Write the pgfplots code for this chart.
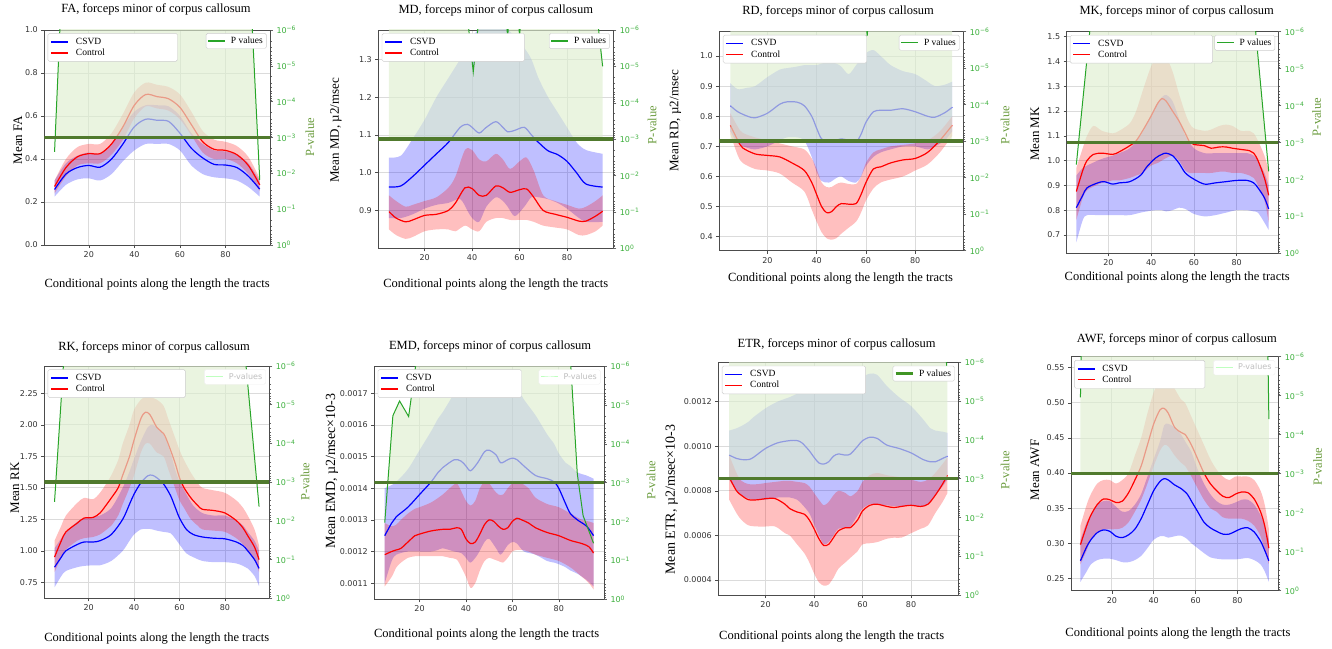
\documentclass[border=0pt]{standalone}
\usepackage{fontspec}
\setmainfont{Liberation Serif}
\newfontfamily\tickfamily{DejaVu Sans}
\usepackage{pgfplots}
\usepackage{pgfplotstable}
\pgfplotsset{compat=1.18}
\usepgfplotslibrary{fillbetween}

\definecolor{cblue}{RGB}{0,0,255}
\definecolor{cred}{RGB}{255,0,0}
\definecolor{gfill}{RGB}{222,238,208}
\definecolor{pgreen}{RGB}{40,165,40}
\definecolor{thr}{RGB}{80,122,45}
\definecolor{tgreen}{RGB}{60,175,60}
\definecolor{plab}{RGB}{105,155,60}

\newcommand{\tickf}{\tickfamily\fontsize{8}{9.5}\selectfont}
\newcommand{\ttlf}{\fontsize{12.5}{14}\selectfont}
\newcommand{\labf}{\fontsize{12.5}{14}\selectfont}
\newcommand{\ylabf}{\fontsize{13}{15}\selectfont}
\newcommand{\legf}{\fontsize{9.5}{11}\selectfont}

\tikzset{lbl/.style 2 args={at={(axis description cs:#1,#2)},anchor=center}}

% right axis: y = -log10(p), so 0 is p=1 (bottom) and 6 is p=1e-6 (top)
\pgfplotsset{
  lax/.style={scale only axis, xmin=0.5, xmax=99.5, xtick={20,40,60,80},
    grid=major, major grid style={line width=0.7pt, black!14},
    tick pos=left, tick align=outside, major tick length=3pt,
    tick style={black!70, line width=0.5pt},
    axis line style={black!70, line width=0.7pt},
    ticklabel style={font=\tickf, text=black!80},
    /pgf/number format/assume math mode=true,
    title style={font=\ttlf}, xlabel style={font=\labf}, ylabel style={font=\ylabf}},
  pax/.style={scale only axis, xmin=0.5, xmax=99.5, ymin=0, ymax=6,
    axis x line=none, axis y line*=right,
    ytick={0,1,2,3,4,5,6},
    yticklabels={10\textsuperscript{0},10\textsuperscript{−1},10\textsuperscript{−2},10\textsuperscript{−3},10\textsuperscript{−4},10\textsuperscript{−5},10\textsuperscript{−6}},
    minor ytick={0.046,0.097,0.155,0.222,0.301,0.398,0.523,0.699,1.046,1.097,1.155,1.222,1.301,1.398,1.523,1.699,2.046,2.097,2.155,2.222,2.301,2.398,2.523,2.699,3.046,3.097,3.155,3.222,3.301,3.398,3.523,3.699,4.046,4.097,4.155,4.222,4.301,4.398,4.523,4.699,5.046,5.097,5.155,5.222,5.301,5.398,5.523,5.699},
    tick align=outside, major tick length=3pt, minor tick length=1.8pt,
    tick style={black!60, line width=0.5pt},
    axis line style={black!70, line width=0.7pt},
    yticklabel style={font=\tickf, text=tgreen},
    ylabel style={font=\labf, text=plab},
    legend style={at={(axis description cs:0.985,0.985)}, anchor=north east, draw=black!20,
      fill=white, rounded corners=1.5pt, font=\legf, inner sep=1.5pt, column sep=3pt,
      legend cell align=left}},
  lg/.style={scale only axis, hide axis, xmin=0, xmax=1, ymin=0, ymax=1,
    legend style={at={(axis description cs:0.015,0.985)}, anchor=north west, draw=black!20,
      fill=white, rounded corners=1.5pt, font=\legf, legend cell align=left,
      inner sep=2.5pt, row sep=-1pt, column sep=5pt}},
  pfill/.style={fill=gfill, fill opacity=0.65, draw=none, forget plot},
  pcur/.style={pgreen, line width=1pt, forget plot},
  thrl/.style={thr, line width=3.6pt, forget plot},
  faded/.style={legend style={text=black!25, draw=black!6, font=\tickf}}
}

\newcommand{\bands}[2]{%
  \addplot[name path=bl, draw=none, smooth, forget plot] table[x=x,y=l]{#1};
  \addplot[name path=bh, draw=none, smooth, forget plot] table[x=x,y=h]{#1};
  \addplot[fill=cblue, fill opacity=0.25, draw=none, forget plot] fill between[of=bl and bh];
  \addplot[name path=rl, draw=none, smooth, forget plot] table[x=x,y=l]{#2};
  \addplot[name path=rh, draw=none, smooth, forget plot] table[x=x,y=h]{#2};
  \addplot[fill=cred, fill opacity=0.25, draw=none, forget plot] fill between[of=rl and rh];
  \addplot[cblue, line width=1.2pt, smooth, forget plot] table[x=x,y=m]{#1};
  \addplot[cred, line width=1.2pt, smooth, forget plot] table[x=x,y=m]{#2};
}
% legend-only overlay axis: an invisible two-point plot gives it a bounding box
\newcommand{\legbox}[4]{%
  \begin{axis}[lg, at={#1}, width=#2, height=#3]
  \addplot[draw=none, forget plot] coordinates {(0,0) (1,1)};
  \addlegendimage{cblue, line width=1.5pt}\addlegendentry{\makebox[#4][l]{CSVD}}
  \addlegendimage{cred, line width=1.5pt}\addlegendentry{\makebox[#4][l]{Control}}
  \end{axis}}

% ---------------- data: x, mean, lower, upper ----------------
\pgfplotstableread{
x m l h
5 0.258 0.225 0.30
10 0.33 0.28 0.38
15 0.36 0.305 0.415
20 0.37 0.31 0.43
25 0.362 0.30 0.425
30 0.40 0.33 0.47
35 0.47 0.39 0.55
40 0.55 0.44 0.62
45 0.585 0.47 0.65
50 0.58 0.47 0.65
55 0.575 0.47 0.645
60 0.52 0.44 0.60
65 0.45 0.37 0.52
70 0.405 0.33 0.47
75 0.375 0.315 0.44
80 0.372 0.31 0.435
85 0.36 0.30 0.42
90 0.32 0.27 0.38
95 0.26 0.225 0.30
}\FAb
\pgfplotstableread{
x m l h
5 0.272 0.24 0.30
10 0.36 0.32 0.40
15 0.41 0.37 0.455
20 0.425 0.38 0.47
25 0.425 0.38 0.47
30 0.47 0.42 0.52
35 0.55 0.49 0.61
40 0.65 0.59 0.71
45 0.70 0.645 0.755
50 0.69 0.635 0.745
55 0.68 0.625 0.735
60 0.64 0.585 0.70
65 0.56 0.51 0.62
70 0.48 0.43 0.53
75 0.445 0.40 0.49
80 0.44 0.40 0.48
85 0.42 0.38 0.46
90 0.37 0.33 0.41
95 0.28 0.25 0.31
}\FAr
\pgfplotstableread{
x m l h
5 0.962 0.88 1.04
10 0.965 0.88 1.045
15 0.99 0.89 1.09
20 1.02 0.905 1.14
25 1.05 0.915 1.20
30 1.08 0.92 1.25
35 1.12 0.93 1.30
38 1.128 0.90 1.33
40 1.12 0.88 1.36
43 1.105 0.87 1.38
46 1.12 0.91 1.40
50 1.135 0.935 1.42
53 1.12 0.925 1.40
55 1.108 0.91 1.38
58 1.112 0.885 1.36
62 1.12 0.91 1.33
65 1.10 0.935 1.30
68 1.08 0.935 1.25
72 1.058 0.93 1.20
76 1.048 0.92 1.16
80 1.03 0.905 1.12
84 1.00 0.885 1.08
88 0.97 0.87 1.06
95 0.962 0.87 1.05
}\MDb
\pgfplotstableread{
x m l h
5 0.897 0.85 0.94
8 0.88 0.835 0.925
12 0.87 0.825 0.91
15 0.875 0.83 0.915
20 0.887 0.845 0.925
25 0.89 0.85 0.935
30 0.90 0.85 0.96
33 0.92 0.845 0.99
37 0.96 0.86 1.06
40 0.958 0.85 1.06
43 0.94 0.845 1.035
46 0.94 0.87 1.03
50 0.965 0.88 1.05
53 0.96 0.88 1.035
56 0.948 0.875 1.01
60 0.955 0.875 1.03
63 0.957 0.875 1.04
66 0.935 0.87 1.005
70 0.90 0.86 0.94
75 0.89 0.855 0.925
80 0.882 0.85 0.915
85 0.872 0.835 0.905
88 0.872 0.835 0.91
92 0.885 0.845 0.925
95 0.898 0.86 0.94
}\MDr
\pgfplotstableread{
x m l h
5 0.835 0.75 0.91
8 0.815 0.71 0.89
12 0.80 0.695 0.895
15 0.795 0.69 0.90
20 0.81 0.70 0.93
25 0.84 0.72 0.955
28 0.848 0.73 0.96
32 0.847 0.73 0.965
35 0.835 0.72 0.97
38 0.80 0.665 0.97
40 0.76 0.615 0.97
42 0.725 0.585 0.975
45 0.715 0.58 0.98
48 0.72 0.595 0.975
50 0.725 0.60 0.965
53 0.72 0.585 0.94
56 0.715 0.58 0.97
58 0.74 0.60 0.99
60 0.78 0.635 1.01
63 0.815 0.665 1.02
66 0.82 0.68 1.00
70 0.82 0.69 0.97
75 0.825 0.70 0.95
80 0.815 0.70 0.94
85 0.80 0.69 0.915
88 0.797 0.70 0.90
92 0.812 0.72 0.905
95 0.83 0.75 0.915
}\RDb
\pgfplotstableread{
x m l h
5 0.77 0.74 0.81
8 0.72 0.67 0.765
10 0.695 0.645 0.745
15 0.675 0.625 0.73
20 0.67 0.62 0.72
25 0.665 0.61 0.71
30 0.645 0.58 0.70
35 0.62 0.55 0.69
38 0.58 0.49 0.66
40 0.54 0.45 0.625
42 0.50 0.415 0.58
44 0.48 0.395 0.565
46 0.483 0.39 0.565
48 0.50 0.395 0.575
50 0.51 0.41 0.58
53 0.508 0.43 0.575
56 0.51 0.45 0.575
58 0.54 0.48 0.60
60 0.58 0.52 0.645
63 0.625 0.56 0.68
66 0.632 0.58 0.69
70 0.645 0.59 0.70
75 0.655 0.60 0.705
80 0.66 0.62 0.71
85 0.68 0.64 0.72
90 0.72 0.68 0.75
95 0.77 0.735 0.80
}\RDr
\pgfplotstableread{
x m l h
5 0.81 0.67 0.94
8 0.86 0.76 0.97
10 0.89 0.78 0.98
15 0.91 0.78 1.00
18 0.915 0.78 1.01
22 0.905 0.78 1.02
25 0.91 0.78 1.03
30 0.915 0.78 1.05
35 0.94 0.79 1.10
38 0.975 0.795 1.15
42 1.01 0.80 1.22
45 1.025 0.80 1.255
47 1.03 0.795 1.265
50 1.02 0.80 1.24
53 0.99 0.81 1.17
56 0.95 0.805 1.10
60 0.925 0.785 1.05
65 0.905 0.775 1.03
70 0.91 0.78 1.03
75 0.915 0.79 1.03
80 0.92 0.80 1.03
85 0.92 0.80 1.03
88 0.91 0.795 1.02
90 0.89 0.79 1.00
93 0.85 0.75 0.95
95 0.805 0.72 0.90
}\MKb
\pgfplotstableread{
x m l h
5 0.875 0.76 0.97
8 0.96 0.85 1.05
10 1.00 0.88 1.10
13 1.025 0.895 1.14
17 1.03 0.91 1.12
22 1.025 0.92 1.11
25 1.035 0.92 1.12
30 1.06 0.93 1.15
33 1.08 0.94 1.20
36 1.12 0.95 1.28
40 1.18 0.98 1.38
43 1.23 0.99 1.42
45 1.25 1.00 1.43
47 1.24 1.01 1.42
50 1.20 1.02 1.36
53 1.16 1.00 1.27
56 1.11 0.96 1.19
58 1.075 0.95 1.15
60 1.065 0.95 1.13
65 1.06 0.95 1.12
68 1.05 0.95 1.125
72 1.055 0.955 1.14
75 1.055 0.955 1.145
78 1.05 0.95 1.14
82 1.045 0.95 1.12
86 1.04 0.94 1.12
88 1.03 0.93 1.11
90 1.00 0.90 1.08
93 0.93 0.84 1.02
95 0.86 0.75 0.96
}\MKr
\pgfplotstableread{
x m l h
5 0.87 0.71 1.02
8 0.95 0.80 1.10
10 1.00 0.84 1.15
15 1.05 0.87 1.23
18 1.07 0.88 1.26
22 1.07 0.885 1.27
25 1.08 0.885 1.28
30 1.13 0.92 1.34
35 1.25 1.00 1.50
38 1.37 1.08 1.63
40 1.45 1.13 1.73
43 1.54 1.17 1.87
46 1.595 1.175 1.98
48 1.60 1.17 2.00
50 1.58 1.16 1.98
53 1.53 1.15 1.92
56 1.44 1.14 1.78
58 1.35 1.10 1.65
60 1.26 1.05 1.55
63 1.17 0.98 1.45
66 1.13 0.95 1.36
70 1.11 0.92 1.30
75 1.10 0.91 1.28
80 1.095 0.91 1.28
85 1.07 0.90 1.24
88 1.04 0.88 1.20
90 1.00 0.86 1.15
93 0.93 0.80 1.08
95 0.86 0.72 1.00
}\RKb
\pgfplotstableread{
x m l h
5 0.95 0.83 1.08
8 1.08 0.95 1.20
10 1.15 1.01 1.28
15 1.22 1.08 1.38
18 1.26 1.10 1.42
22 1.265 1.11 1.41
25 1.30 1.13 1.46
28 1.37 1.17 1.54
30 1.42 1.20 1.60
33 1.50 1.28 1.72
35 1.60 1.37 1.85
38 1.75 1.50 2.00
40 1.88 1.60 2.12
43 2.05 1.78 2.20
45 2.10 1.85 2.22
47 2.08 1.85 2.22
50 1.98 1.78 2.20
53 1.93 1.75 2.15
55 1.85 1.65 2.05
58 1.70 1.50 1.90
60 1.58 1.40 1.80
62 1.50 1.34 1.72
65 1.42 1.25 1.62
68 1.36 1.20 1.54
70 1.33 1.17 1.50
75 1.32 1.16 1.48
80 1.30 1.15 1.46
85 1.24 1.10 1.40
88 1.18 1.05 1.34
90 1.12 1.00 1.28
93 1.03 0.93 1.17
95 0.93 0.83 1.04
}\RKr
\pgfplotstableread{
x m l h
5 1.25 1.10 1.40
8 1.29 1.17 1.41
10 1.31 1.19 1.42
15 1.34 1.20 1.46
20 1.38 1.20 1.52
25 1.42 1.20 1.58
28 1.45 1.205 1.62
30 1.465 1.21 1.64
35 1.49 1.20 1.70
38 1.485 1.195 1.73
40 1.47 1.18 1.74
42 1.455 1.165 1.75
45 1.48 1.19 1.76
48 1.515 1.23 1.77
50 1.52 1.24 1.77
53 1.505 1.21 1.77
55 1.48 1.19 1.76
58 1.49 1.22 1.75
60 1.495 1.23 1.73
62 1.49 1.225 1.72
65 1.47 1.20 1.68
70 1.44 1.19 1.63
75 1.43 1.17 1.57
78 1.42 1.165 1.54
80 1.40 1.16 1.51
83 1.35 1.15 1.48
85 1.32 1.14 1.47
88 1.30 1.13 1.45
92 1.28 1.11 1.44
95 1.25 1.09 1.43
}\EMDb
\pgfplotstableread{
x m l h
5 1.19 1.09 1.29
8 1.20 1.12 1.28
10 1.205 1.15 1.285
12 1.21 1.165 1.30
15 1.23 1.18 1.32
18 1.25 1.185 1.335
20 1.255 1.185 1.34
25 1.265 1.185 1.355
30 1.27 1.185 1.38
33 1.27 1.18 1.40
36 1.275 1.175 1.415
38 1.27 1.15 1.39
40 1.24 1.12 1.36
42 1.225 1.085 1.345
44 1.23 1.10 1.36
46 1.255 1.14 1.40
48 1.285 1.17 1.42
50 1.30 1.18 1.415
52 1.295 1.175 1.395
54 1.28 1.17 1.38
56 1.27 1.165 1.38
58 1.275 1.18 1.40
60 1.295 1.20 1.415
62 1.305 1.205 1.42
64 1.30 1.205 1.415
67 1.29 1.20 1.40
70 1.275 1.19 1.37
75 1.26 1.18 1.35
80 1.25 1.17 1.34
85 1.235 1.15 1.32
90 1.225 1.12 1.30
93 1.215 1.10 1.295
95 1.195 1.08 1.29
}\EMDr
\pgfplotstableread{
x m l h
5 0.96 0.85 1.07
8 0.945 0.80 1.08
10 0.94 0.78 1.09
13 0.94 0.765 1.11
15 0.95 0.76 1.13
20 0.99 0.76 1.17
25 1.015 0.77 1.20
30 1.025 0.77 1.22
33 1.025 0.76 1.235
35 1.015 0.74 1.24
38 0.98 0.70 1.245
40 0.95 0.65 1.245
42 0.925 0.60 1.24
44 0.92 0.56 1.24
46 0.93 0.57 1.245
48 0.955 0.60 1.25
50 0.965 0.63 1.26
53 0.96 0.635 1.265
55 0.965 0.64 1.27
58 1.00 0.69 1.29
60 1.025 0.72 1.31
63 1.04 0.74 1.325
66 1.035 0.74 1.32
70 1.005 0.735 1.27
75 0.99 0.73 1.22
80 0.97 0.735 1.18
85 0.94 0.73 1.12
88 0.93 0.75 1.08
90 0.93 0.78 1.07
93 0.945 0.82 1.065
95 0.955 0.85 1.06
}\ETRb
\pgfplotstableread{
x m l h
5 0.86 0.76 0.96
8 0.80 0.70 0.88
10 0.78 0.67 0.845
13 0.76 0.645 0.83
17 0.76 0.64 0.83
20 0.765 0.64 0.835
24 0.765 0.64 0.84
28 0.74 0.61 0.845
30 0.72 0.60 0.845
33 0.705 0.56 0.84
36 0.695 0.52 0.835
38 0.67 0.48 0.82
40 0.63 0.43 0.79
42 0.585 0.39 0.76
44 0.555 0.375 0.735
46 0.56 0.38 0.75
48 0.59 0.41 0.78
50 0.62 0.45 0.80
53 0.635 0.48 0.79
55 0.635 0.50 0.775
58 0.67 0.53 0.80
60 0.71 0.56 0.84
63 0.735 0.565 0.87
66 0.74 0.57 0.88
70 0.73 0.585 0.87
73 0.725 0.59 0.865
76 0.73 0.59 0.86
80 0.735 0.61 0.85
84 0.73 0.63 0.84
87 0.74 0.645 0.85
90 0.78 0.70 0.88
93 0.83 0.75 0.92
95 0.87 0.79 0.95
}\ETRr
\pgfplotstableread{
x m l h
5 0.275 0.245 0.305
8 0.295 0.26 0.33
10 0.305 0.27 0.34
13 0.315 0.276 0.355
16 0.319 0.278 0.36
19 0.317 0.278 0.36
22 0.31 0.276 0.352
25 0.308 0.273 0.345
28 0.312 0.273 0.346
31 0.32 0.276 0.355
34 0.335 0.282 0.37
37 0.355 0.293 0.395
40 0.375 0.305 0.42
43 0.388 0.31 0.445
45 0.392 0.31 0.468
47 0.39 0.308 0.47
50 0.383 0.31 0.465
53 0.378 0.311 0.455
56 0.37 0.306 0.44
58 0.36 0.30 0.43
61 0.345 0.293 0.405
64 0.33 0.286 0.385
67 0.322 0.28 0.37
70 0.317 0.278 0.36
73 0.313 0.277 0.355
76 0.313 0.277 0.355
79 0.317 0.277 0.358
82 0.321 0.278 0.362
85 0.322 0.279 0.362
88 0.316 0.276 0.355
91 0.303 0.27 0.34
93 0.29 0.26 0.325
95 0.275 0.245 0.305
}\AWFb
\pgfplotstableread{
x m l h
5 0.298 0.27 0.325
8 0.325 0.29 0.355
10 0.34 0.305 0.37
13 0.355 0.315 0.385
16 0.363 0.32 0.39
19 0.362 0.32 0.39
22 0.358 0.32 0.385
25 0.36 0.322 0.39
28 0.372 0.33 0.40
31 0.39 0.345 0.425
34 0.41 0.362 0.45
37 0.44 0.385 0.485
40 0.47 0.41 0.515
43 0.49 0.432 0.535
45 0.492 0.44 0.54
47 0.485 0.438 0.535
50 0.465 0.425 0.52
53 0.458 0.415 0.505
55 0.455 0.41 0.50
58 0.44 0.395 0.48
61 0.42 0.378 0.46
64 0.40 0.362 0.44
67 0.385 0.35 0.42
70 0.375 0.345 0.405
73 0.367 0.337 0.395
76 0.365 0.335 0.39
79 0.37 0.335 0.395
82 0.373 0.335 0.395
85 0.372 0.332 0.395
88 0.363 0.325 0.39
91 0.345 0.31 0.375
93 0.325 0.29 0.355
95 0.293 0.27 0.32
}\AWFr

\begin{document}
\begin{tikzpicture}

% ================= FA =================
\begin{axis}[lax, at={(44.3pt,403pt)}, width=225.7pt, height=215pt,
  ymin=0, ymax=1, ytick={0,0.2,0.4,0.6,0.8,1},
  yticklabel style={/pgf/number format/.cd,fixed,fixed zerofill,precision=1},
  title={FA, forceps minor of corpus callosum}, title style={lbl={0.495}{1.07}},
  xlabel={Conditional points along the length the tracts}, xlabel style={lbl={0.5}{-0.186}},
  ylabel={Mean FA}, ylabel style={lbl={-0.117}{0.488}}]
\bands{\FAb}{\FAr}
\end{axis}
\begin{axis}[pax, at={(44.3pt,403pt)}, width=225.7pt, height=215pt,
  ylabel={P-value}, ylabel style={lbl={1.177}{0.502}}]
\addplot[pfill] coordinates {(5.27,3) (8,7) (91,7) (94.1,3)};
\addplot[pcur] coordinates {(5,2.6) (8,7) (91,7) (95,1.82)};
\addplot[thrl] coordinates {(0.5,3) (99.5,3)};
\addlegendimage{pgreen, line width=1.3pt}\addlegendentry{P values}
\end{axis}
\legbox{(44.3pt,403pt)}{225.7pt}{215pt}{97pt}

% ================= MD =================
\begin{axis}[lax, at={(378.3pt,399.7pt)}, width=235pt, height=218.3pt,
  ymin=0.80, ymax=1.3775, ytick={0.9,1.0,1.1,1.2,1.3},
  yticklabel style={/pgf/number format/.cd,fixed,fixed zerofill,precision=1},
  title={MD, forceps minor of corpus callosum}, title style={lbl={0.5}{1.06}},
  xlabel={Conditional points along the length the tracts}, xlabel style={lbl={0.5}{-0.168}},
  ylabel={Mean MD, µ2/msec}, ylabel style={lbl={-0.18}{0.54}}]
\bands{\MDb}{\MDr}
\end{axis}
\begin{axis}[pax, at={(378.3pt,399.7pt)}, width=235pt, height=218.3pt,
  ylabel={P-value}, ylabel style={lbl={1.165}{0.565}}]
\addplot[pfill] coordinates {(5,3) (5,8) (30,8) (37,7) (40.5,4.85) (44,7) (52,8) (55,5.82) (57.5,8) (60,5.85) (63,8) (90,8) (95,5) (95,3)};
\addplot[pcur] coordinates {(5,8) (30,8) (37,7) (40.5,4.85) (44,7) (52,8) (55,5.82) (57.5,8) (60,5.85) (63,8) (90,8) (95,5)};
\addplot[thrl] coordinates {(0.5,3) (99.5,3)};
\addlegendimage{pgreen, line width=1.3pt}\addlegendentry{P values}
\end{axis}
\legbox{(378.3pt,399.7pt)}{235pt}{218.3pt}{110pt}

% ================= RD =================
\begin{axis}[lax, at={(719.3pt,397.3pt)}, width=244pt, height=219pt,
  ymin=0.3535, ymax=1.081, ytick={0.4,0.5,0.6,0.7,0.8,0.9,1.0},
  yticklabel style={/pgf/number format/.cd,fixed,fixed zerofill,precision=1},
  title={RD, forceps minor of corpus callosum}, title style={lbl={0.487}{1.067}},
  xlabel={Conditional points along the length the tracts}, xlabel style={lbl={0.497}{-0.125}},
  ylabel={Mean RD, µ2/msec}, ylabel style={lbl={-0.18}{0.592}}]
\bands{\RDb}{\RDr}
\end{axis}
\begin{axis}[pax, at={(719.3pt,397.3pt)}, width=244pt, height=219pt,
  ylabel={P-value}, ylabel style={lbl={1.171}{0.574}}]
\addplot[pfill] coordinates {(5,3) (5,8) (58,8) (60.5,5.89) (63,8) (95,8) (95,3)};
\addplot[pcur] coordinates {(5,8) (58,8) (60.5,5.89) (63,8) (95,8)};
\addplot[thrl] coordinates {(0.5,3) (99.5,3)};
\addlegendimage{pgreen, line width=1.3pt}\addlegendentry{P values}
\end{axis}
\legbox{(719.3pt,397.3pt)}{244pt}{219pt}{111pt}

% ================= MK =================
\begin{axis}[lax, at={(1066.7pt,394.7pt)}, width=211.6pt, height=221.6pt,
  ymin=0.626, ymax=1.52, ytick={0.7,0.8,0.9,1.0,1.1,1.2,1.3,1.4,1.5},
  yticklabel style={/pgf/number format/.cd,fixed,fixed zerofill,precision=1},
  title={MK, forceps minor of corpus callosum}, title style={lbl={0.52}{1.066}},
  xlabel={Conditional points along the length the tracts}, xlabel style={lbl={0.522}{-0.111}},
  ylabel={Mean MK}, ylabel style={lbl={-0.15}{0.538}}]
\bands{\MKb}{\MKr}
\end{axis}
\begin{axis}[pax, at={(1066.7pt,394.7pt)}, width=211.6pt, height=221.6pt,
  ylabel={P-value}, ylabel style={lbl={1.181}{0.615}}]
\addplot[pfill] coordinates {(6.06,3) (13,7) (87.3,7) (93.73,3)};
\addplot[pcur] coordinates {(5,2.4) (13,7) (87.3,7) (95,2.22)};
\addplot[thrl] coordinates {(0.5,3) (99.5,3)};
\addlegendimage{pgreen, line width=1.3pt}\addlegendentry{P values}
\end{axis}
\legbox{(1066.7pt,394.7pt)}{211.6pt}{221.6pt}{110pt}

% ================= RK =================
\begin{axis}[lax, at={(44.3pt,49.7pt)}, width=225pt, height=232.3pt,
  ymin=0.623, ymax=2.467, ytick={0.75,1.0,1.25,1.5,1.75,2.0,2.25},
  yticklabel style={/pgf/number format/.cd,fixed,fixed zerofill,precision=2},
  title={RK, forceps minor of corpus callosum}, title style={lbl={0.488}{1.056}},
  xlabel={Conditional points along the length the tracts}, xlabel style={lbl={0.5}{-0.171}},
  ylabel={Mean RK}, ylabel style={lbl={-0.13}{0.475}}]
\bands{\RKb}{\RKr}
\end{axis}
\begin{axis}[pax, faded, at={(44.3pt,49.7pt)}, width=225pt, height=232.3pt,
  ylabel={P-value}, ylabel style={lbl={1.159}{0.502}}]
\addplot[pfill] coordinates {(5.56,3) (10,7) (87.7,7) (94.0,3)};
\addplot[pcur] coordinates {(5,2.49) (10,7) (87.7,7) (95,2.37)};
\addplot[thrl] coordinates {(0.5,3) (99.5,3)};
\addlegendimage{green!25, line width=1pt}\addlegendentry{P-values}
\end{axis}
\legbox{(44.3pt,49.7pt)}{225pt}{232.3pt}{105pt}

% ================= EMD =================
\begin{axis}[lax, at={(374.3pt,48.7pt)}, width=229.7pt, height=233.3pt,
  ymin=1.049, ymax=1.786, ytick={1.1,1.2,1.3,1.4,1.5,1.6,1.7},
  yticklabels={0.0011,0.0012,0.0013,0.0014,0.0015,0.0016,0.0017},
  title={EMD, forceps minor of corpus callosum}, title style={lbl={0.504}{1.056}},
  xlabel={Conditional points along the length the tracts}, xlabel style={lbl={0.489}{-0.153}},
  ylabel={Mean EMD, µ2/msec×10-3}, ylabel style={lbl={-0.184}{0.55}, font=\fontsize{14}{16}\selectfont}]
\bands{\EMDb}{\EMDr}
\end{axis}
\begin{axis}[pax, faded, at={(374.3pt,48.7pt)}, width=229.7pt, height=233.3pt,
  ylabel={P-value}, ylabel style={lbl={1.205}{0.511}}]
\addplot[pfill] coordinates {(6.31,3) (8.5,4.72) (11.4,5.1) (15.3,4.7) (18.3,6) (20,7) (84,7) (85.2,6) (88,3.22) (88.51,3)};
\addplot[pcur] coordinates {(5,1.97) (8.5,4.72) (11.4,5.1) (15.3,4.7) (18.3,6) (20,7) (84,7) (85.2,6) (88,3.22) (90.5,2.15) (95,1.44)};
\addplot[thrl] coordinates {(0.5,3) (99.5,3)};
\addlegendimage{green!25, line width=1pt}\addlegendentry{P-values}
\end{axis}
\legbox{(374.3pt,48.7pt)}{229.7pt}{233.3pt}{111pt}

% ================= ETR =================
\begin{axis}[lax, at={(718.3pt,53pt)}, width=240pt, height=232.7pt,
  ymin=0.333, ymax=1.376, ytick={0.4,0.6,0.8,1.0,1.2},
  yticklabels={0.0004,0.0006,0.0008,0.0010,0.0012},
  title={ETR, forceps minor of corpus callosum}, title style={lbl={0.493}{1.053}},
  xlabel={Conditional points along the length the tracts}, xlabel style={lbl={0.4725}{-0.179}},
  ylabel={Mean ETR, µ2/msec×10-3}, ylabel style={lbl={-0.194}{0.41}, font=\fontsize{14}{16}\selectfont}]
\bands{\ETRb}{\ETRr}
\end{axis}
\begin{axis}[pax, at={(718.3pt,53pt)}, width=240pt, height=232.7pt,
  ylabel={P-value}, ylabel style={lbl={1.195}{0.537}}]
\addplot[pfill] coordinates {(5,3) (5,8) (93,8) (95,5.52) (95,3)};
\addplot[pcur] coordinates {(5,8) (93,8) (95,5.52)};
\addplot[thrl] coordinates {(0.5,3) (99.5,3)};
\addlegendimage{thr!80!green, line width=2.6pt}\addlegendentry{P values}
\end{axis}
\legbox{(718.3pt,53pt)}{240pt}{232.7pt}{111pt}

% ================= AWF =================
\begin{axis}[lax, at={(1071pt,57.3pt)}, width=207.3pt, height=234pt,
  ymin=0.2324, ymax=0.5657, ytick={0.25,0.30,0.35,0.40,0.45,0.50,0.55},
  yticklabel style={/pgf/number format/.cd,fixed,fixed zerofill,precision=2},
  title={AWF, forceps minor of corpus callosum}, title style={lbl={0.511}{1.05}},
  xlabel={Conditional points along the length the tracts}, xlabel style={lbl={0.516}{-0.182}},
  ylabel={Mean AWF}, ylabel style={lbl={-0.174}{0.516}}]
\bands{\AWFb}{\AWFr}
\end{axis}
\begin{axis}[pax, faded, at={(1071pt,57.3pt)}, width=207.3pt, height=234pt,
  ylabel={P-value}, ylabel style={lbl={1.19}{0.53}}]
\addplot[pfill] coordinates {(5,3) (5,4.96) (6,8) (94,8) (95,4.4) (95,3)};
\addplot[pcur] coordinates {(5,4.96) (6,8) (94,8) (95,4.4)};
\addplot[thrl] coordinates {(0.5,3) (99.5,3)};
\addlegendimage{green!25, line width=1pt}\addlegendentry{P-values}
\end{axis}
\legbox{(1071pt,57.3pt)}{207.3pt}{234pt}{98pt}

% fix the page to the 1332x648 frame of the reference
\pgfresetboundingbox
\path[use as bounding box] (0,0) rectangle (1332pt,648pt);
\end{tikzpicture}
\end{document}
